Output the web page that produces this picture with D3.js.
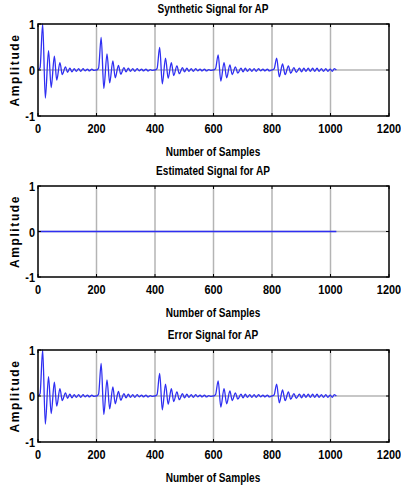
<!DOCTYPE html>
<html>
<head>
<meta charset="utf-8">
<script src="https://cdn.jsdelivr.net/npm/d3@7"></script>
<style>
  body { margin: 0; background: #fff; }
  svg text { font-family: "Liberation Sans", Arial, sans-serif; font-weight: bold; fill: #000; }
</style>
</head>
<body>
<div id="chart"></div>
<script>
// sample offsets of the extrema inside one burst (bursts repeat every 200 samples)
const burstOffsets = [0, 7, 16, 25, 36, 45, 56, 64, 75, 83, 94, 101, 109, 116, 124, 131, 139, 146, 154, 161, 169, 176, 184, 191, 199];
const burstStarts = [0, 200, 400, 600, 800];
const burstAmps = [
  [0, 0.05, 1.00, -0.61, 0.42, -0.38, 0.30, -0.22, 0.16, -0.10, 0.07, -0.05, 0.04, -0.04, 0.03, -0.03, 0.03, -0.03, 0.03, -0.02, 0.02, -0.02, 0.02, -0.01, 0],
  [0, 0.04, 0.71, -0.40, 0.35, -0.28, 0.20, -0.17, 0.10, -0.09, 0.05, -0.04, 0.04, -0.03, 0.03, -0.03, 0.03, -0.02, 0.02, -0.02, 0.02, -0.02, 0.01, -0.01, 0],
  [0, 0.03, 0.49, -0.30, 0.26, -0.18, 0.16, -0.12, 0.09, -0.08, 0.05, -0.04, 0.04, -0.03, 0.03, -0.03, 0.03, -0.02, 0.02, -0.02, 0.02, -0.02, 0.01, -0.01, 0],
  [0, 0.03, 0.33, -0.24, 0.16, -0.17, 0.11, -0.10, 0.07, -0.07, 0.04, -0.04, 0.04, -0.03, 0.03, -0.03, 0.03, -0.03, 0.03, -0.02, 0.02, -0.02, 0.02, -0.02, 0],
  [0, 0.02, 0.26, -0.15, 0.13, -0.10, 0.09, -0.07, 0.05, -0.05, 0.04, -0.04, 0.04, -0.03, 0.04, -0.03, 0.04, -0.03, 0.04, -0.03, 0.03, -0.03, 0.03, -0.03, 0.02]
];
const tailSamples = [1006, 1013, 1020];
const tailAmps = [-0.03, 0.03, 0];

const estimatedSamples = [0, 1020];
const estimatedAmps = [0, 0];

const xTicks = [0, 200, 400, 600, 800, 1000, 1200];
const yTicks = [-1, 0, 1];
const titles = ["Synthetic Signal for AP", "Estimated Signal for AP", "Error Signal for AP"];

// build the synthetic series
const synthetic = [];
burstStarts.forEach((s, b) => {
  burstOffsets.forEach((o, i) => synthetic.push({ n: s + o, v: burstAmps[b][i] }));
});
tailSamples.forEach((n, i) => synthetic.push({ n: n, v: tailAmps[i] }));

const estimated = estimatedSamples.map((n, i) => ({ n: n, v: estimatedAmps[i] }));
const estAt = d3.scaleLinear().domain(estimatedSamples).range(estimatedAmps);
const error = synthetic.map(d => ({ n: d.n, v: d.v - estAt(d.n) }));

const width = 401, height = 485;
const svg = d3.select("#chart").append("svg")
  .attr("width", width)
  .attr("height", height);

const panels = [
  { data: synthetic, top: 24, bottom: 116, title: titles[0] },
  { data: estimated, top: 186, bottom: 277, title: titles[1] },
  { data: error, top: 350, bottom: 442, title: titles[2] }
];
const left = 38, right = 389;
const narrow = 0.84; // squeeze to mimic the condensed font

const x = d3.scaleLinear().domain([0, 1200]).range([left, right]);

panels.forEach(p => {
  const y = d3.scaleLinear().domain([-1, 1]).range([p.bottom, p.top]);
  const g = svg.append("g");

  // grid
  g.selectAll(".vgrid").data(xTicks.slice(1, -1)).enter()
    .append("line")
    .attr("x1", d => x(d)).attr("x2", d => x(d))
    .attr("y1", p.top).attr("y2", p.bottom)
    .attr("stroke", "#b4b4b4").attr("stroke-width", 1.5);
  g.append("line")
    .attr("x1", left).attr("x2", right)
    .attr("y1", y(0)).attr("y2", y(0))
    .attr("stroke", "#b4b4b4").attr("stroke-width", 1.5);

  // signal
  g.append("path")
    .datum(p.data)
    .attr("fill", "none")
    .attr("stroke", "#2f2ff2")
    .attr("stroke-width", 1.3)
    .attr("d", d3.line().x(d => x(d.n)).y(d => y(d.v)).curve(d3.curveMonotoneX));

  // inner tick marks
  g.selectAll(".tt").data(xTicks).enter().append("line")
    .attr("x1", d => x(d)).attr("x2", d => x(d))
    .attr("y1", p.top).attr("y2", p.top + 3)
    .attr("stroke", "#000");
  g.selectAll(".tb").data(xTicks).enter().append("line")
    .attr("x1", d => x(d)).attr("x2", d => x(d))
    .attr("y1", p.bottom).attr("y2", p.bottom - 3)
    .attr("stroke", "#000");
  g.selectAll(".tl").data(yTicks).enter().append("line")
    .attr("x1", left).attr("x2", left + 3)
    .attr("y1", d => y(d)).attr("y2", d => y(d))
    .attr("stroke", "#000");
  g.selectAll(".tr").data(yTicks).enter().append("line")
    .attr("x1", right).attr("x2", right - 3)
    .attr("y1", d => y(d)).attr("y2", d => y(d))
    .attr("stroke", "#000");

  // box
  g.append("rect")
    .attr("x", left).attr("y", p.top)
    .attr("width", right - left).attr("height", p.bottom - p.top)
    .attr("fill", "none").attr("stroke", "#000").attr("stroke-width", 1.5);

  // tick labels
  g.selectAll(".xl").data(xTicks).enter().append("text")
    .attr("transform", d => `translate(${x(d)},${p.bottom + 17}) scale(${narrow},1)`)
    .attr("text-anchor", "middle")
    .style("font-size", "13px")
    .text(d => d);
  g.selectAll(".yl").data(yTicks).enter().append("text")
    .attr("transform", d => `translate(${left - 3},${y(d) + 5}) scale(${narrow},1)`)
    .attr("text-anchor", "end")
    .style("font-size", "13px")
    .text(d => d);

  // title and labels
  g.append("text")
    .attr("transform", `translate(213,${p.top - 11}) scale(${narrow},1)`)
    .attr("text-anchor", "middle")
    .style("font-size", "12px")
    .text(p.title);
  g.append("text")
    .attr("transform", `translate(213,${p.bottom + 40}) scale(${narrow},1)`)
    .attr("text-anchor", "middle")
    .style("font-size", "12px")
    .text("Number of Samples");
  g.append("text")
    .attr("transform", `translate(19,${(p.top + p.bottom) / 2}) rotate(-90)`)
    .attr("text-anchor", "middle")
    .style("font-size", "12px")
    .style("letter-spacing", "1.6px")
    .text("Amplitude");
});
</script>
</body>
</html>
